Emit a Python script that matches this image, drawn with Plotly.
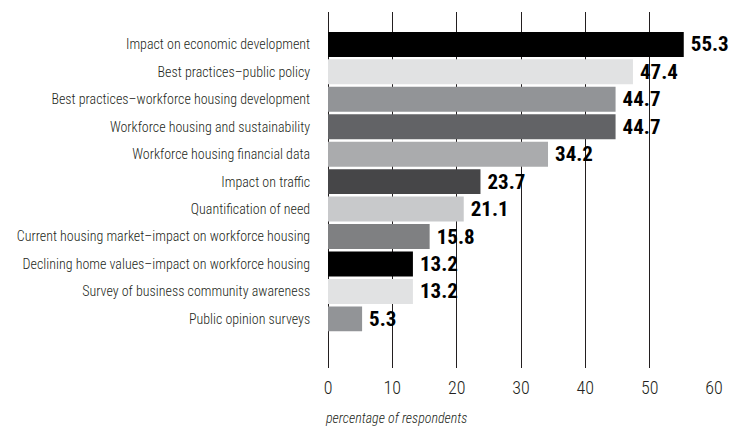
import plotly.graph_objects as go

categories = [
    "Impact on economic development",
    "Best practices\u2013public policy",
    "Best practices\u2013workforce housing development",
    "Workforce housing and sustainability",
    "Workforce housing financial data",
    "Impact on traffic",
    "Quantification of need",
    "Current housing market\u2013impact on workforce housing",
    "Declining home values\u2013impact on workforce housing",
    "Survey of business community awareness",
    "Public opinion surveys",
]
values = [55.3, 47.4, 44.7, 44.7, 34.2, 23.7, 21.1, 15.8, 13.2, 13.2, 5.3]
bar_colors = [
    "#000000", "#e1e2e3", "#929497", "#626366", "#aaabad", "#464648",
    "#c8c9cb", "#7f8082", "#000000", "#e1e2e3", "#929497",
]
x_ticks = [0, 10, 20, 30, 40, 50, 60]

FONT = "Roboto Condensed, DejaVu Sans Condensed, sans-serif"

fig = go.Figure(
    go.Bar(
        x=values,
        y=list(range(len(categories))),
        orientation="h",
        marker=dict(color=bar_colors, line=dict(width=0)),
        text=[f"\u2009{v:.1f}" for v in values],
        textposition="outside",
        textfont=dict(family=FONT, size=21, color="#000000", weight="bold"),
        cliponaxis=False,
        width=0.91,
    )
)

fig.update_layout(
    width=730,
    height=427,
    margin=dict(l=328, r=16, t=12, b=59),
    paper_bgcolor="white",
    plot_bgcolor="white",
    showlegend=False,
    font=dict(family=FONT, color="#231f20"),
    xaxis=dict(
        range=[0, 60],
        tickvals=x_ticks,
        ticktext=[str(t) for t in x_ticks],
        showgrid=True,
        gridcolor="#231f20",
        gridwidth=1,
        zeroline=True,
        zerolinecolor="#231f20",
        zerolinewidth=1,
        showline=False,
        ticks="outside",
        ticklen=3,
        tickcolor="rgba(0,0,0,0)",
        tickfont=dict(family=FONT, size=18, color="#231f20", weight=300),
        automargin=False,
        layer="below traces",
    ),
    yaxis=dict(
        range=[len(categories) - 1 + 1.79, -1.18],
        tickvals=list(range(len(categories))),
        ticktext=categories,
        showgrid=False,
        zeroline=False,
        showline=False,
        ticks="outside",
        ticklen=14,
        tickcolor="rgba(0,0,0,0)",
        tickfont=dict(family=FONT, size=14, color="#231f20", weight=300),
        automargin=False,
    ),
    annotations=[
        dict(
            text="percentage of respondents",
            xref="paper",
            yref="paper",
            x=0,
            y=0,
            xshift=-5,
            yshift=-50,
            xanchor="left",
            yanchor="middle",
            showarrow=False,
            font=dict(family=FONT, size=14, style="italic", color="#231f20",
                      weight=300),
        )
    ],
)

fig.write_html("out.html")
